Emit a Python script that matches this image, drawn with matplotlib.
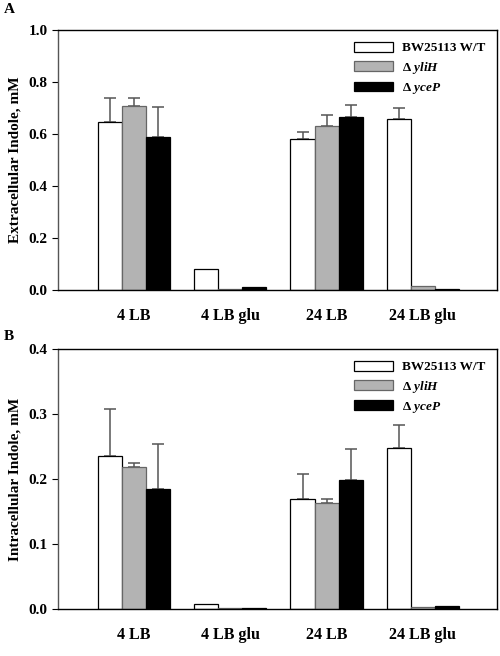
import numpy as np
import matplotlib.pyplot as plt

plt.rcParams['font.family'] = ['Liberation Serif', 'DejaVu Serif']
plt.rcParams['font.weight'] = 'bold'
plt.rcParams['mathtext.fontset'] = 'custom'
plt.rcParams['mathtext.it'] = 'Liberation Serif:italic:bold'

groups = ['4 LB', '4 LB glu', '24 LB', '24 LB glu']
strains = ['BW25113 W/T', 'Δ $\\mathit{yliH}$', 'Δ $\\mathit{yceP}$']
colors = ['white', '#b3b3b3', 'black']
edges = ['black', '#666666', 'black']

# extracellular indole (mM), upper error
ext_wt = [0.646, 0.080, 0.583, 0.658]
ext_yliH = [0.709, 0.005, 0.633, 0.015]
ext_yceP = [0.590, 0.012, 0.664, 0.003]
ext_wt_err = [0.094, 0, 0.026, 0.043]
ext_yliH_err = [0.031, 0, 0.039, 0]
ext_yceP_err = [0.114, 0, 0.049, 0]

# intracellular indole (mM), upper error
int_wt = [0.235, 0.0077, 0.169, 0.2476]
int_yliH = [0.218, 0.001, 0.163, 0.003]
int_yceP = [0.184, 0.001, 0.198, 0.004]
int_wt_err = [0.073, 0, 0.0385, 0.036]
int_yliH_err = [0.0065, 0, 0.006, 0]
int_yceP_err = [0.069, 0, 0.048, 0]

fig = plt.figure(figsize=(5, 6.56), dpi=100)
axA = fig.add_axes([0.116, 0.558, 0.878, 0.396])
axB = fig.add_axes([0.116, 0.072, 0.878, 0.396])

x = np.arange(len(groups))
w = 0.25

def draw(ax, series, errs, ymax, ylabel):
    for i, (vals, err) in enumerate(zip(series, errs)):
        pos = x + (i - 1) * w
        ax.bar(pos, vals, w, color=colors[i], edgecolor=edges[i], linewidth=0.9,
               label=strains[i], zorder=2)
        vals = np.array(vals)
        err = np.array(err)
        m = err > 0
        ax.errorbar(pos[m], vals[m], yerr=[np.zeros(m.sum()), err[m]], fmt='none',
                    ecolor='#555555', elinewidth=1.1, capsize=4.5, capthick=1.1, zorder=1)
    ax.set_xlim(-0.79, 3.77)
    ax.set_ylim(0, ymax)
    ax.set_xticks(x)
    ax.set_xticklabels(groups, fontsize=11.5, fontweight='bold')
    ax.tick_params(axis='x', length=0, pad=13)
    ax.tick_params(axis='y', direction='out', length=4, labelsize=11)
    for t in ax.get_yticklabels():
        t.set_fontweight('bold')
    ax.set_ylabel(ylabel, fontsize=11, fontweight='bold', labelpad=5)
    for s in ax.spines.values():
        s.set_linewidth(1.0)
    ax.spines['left'].set_color('#555555')
    ax.legend(loc='upper right', frameon=False, fontsize=9.5, handlelength=2.9,
              handleheight=0.75, labelspacing=0.4, handletextpad=0.7,
              borderaxespad=0.5)

draw(axA, [ext_wt, ext_yliH, ext_yceP], [ext_wt_err, ext_yliH_err, ext_yceP_err],
     1.0, 'Extracellular Indole, mM')
axA.set_yticks([0.0, 0.2, 0.4, 0.6, 0.8, 1.0])
axA.set_yticklabels(['0.0', '0.2', '0.4', '0.6', '0.8', '1.0'], fontweight='bold')

draw(axB, [int_wt, int_yliH, int_yceP], [int_wt_err, int_yliH_err, int_yceP_err],
     0.4, 'Intracellular Indole, mM')
axB.set_yticks([0.0, 0.1, 0.2, 0.3, 0.4])
axB.set_yticklabels(['0.0', '0.1', '0.2', '0.3', '0.4'], fontweight='bold')

fig.text(0.008, 0.995, 'A', fontsize=11, fontweight='bold', va='top')
fig.text(0.008, 0.497, 'B', fontsize=11, fontweight='bold', va='top')

fig.savefig('out.png', dpi=100)
